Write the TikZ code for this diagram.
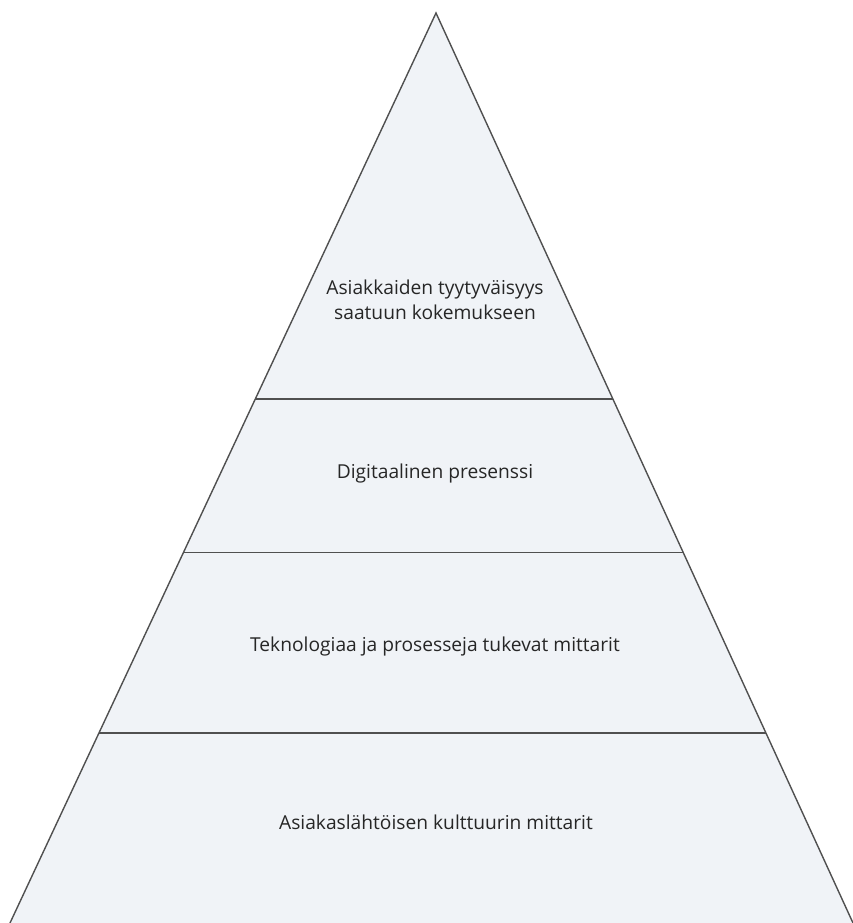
\documentclass[tikz,border=0pt]{standalone}
\usepackage{fontspec}
\setmainfont{Open Sans}
\usetikzlibrary{calc}
\definecolor{levelfill}{HTML}{F0F3F7}
\definecolor{edgegray}{HTML}{505050}
\tikzset{
  pyramid edge/.style={draw=edgegray, line width=1.4pt},
  level text/.style={align=center, font=\fontsize{19.2}{25}\selectfont, text=black!85},
}
\newcommand{\LevelDivider}[2]{
  \coordinate (#1L) at ($(apex)!#2!(baseL)$);
  \coordinate (#1R) at ($(apex)!#2!(baseR)$);
  \draw [pyramid edge] (#1L) -- (#1R);
}
\newcommand{\LevelLabel}[4]{
  \node [level text] (#1) at (#2, #3) {#4};
}

\begin{document}
\begin{tikzpicture}[x=1pt, y=-1pt]

        \useasboundingbox (0,0) rectangle (852,923);

        % outline of the pyramid
        \coordinate (apex) at (436,13);
        \coordinate (baseL) at (10,923);
        \coordinate (baseR) at (853,923);
        \fill [levelfill] (apex) -- (baseL) -- (baseR) -- cycle;
        \draw [pyramid edge] (baseL) -- (apex) -- (baseR);

        % level borders
        \LevelDivider{first}{0.424}
        \LevelDivider{second}{0.593}
        \LevelDivider{third}{0.791}

        % level texts, top to bottom
        \LevelLabel{satisfaction}{435}{300}{Asiakkaiden tyytyväisyys\\saatuun kokemukseen}
        \LevelLabel{presence}{435}{474}{Digitaalinen presenssi}
        \LevelLabel{technology}{435}{647}{Teknologiaa ja prosesseja tukevat mittarit}
        \LevelLabel{culture}{436}{822}{Asiakaslähtöisen kulttuurin mittarit}

\end{tikzpicture}
\end{document}
